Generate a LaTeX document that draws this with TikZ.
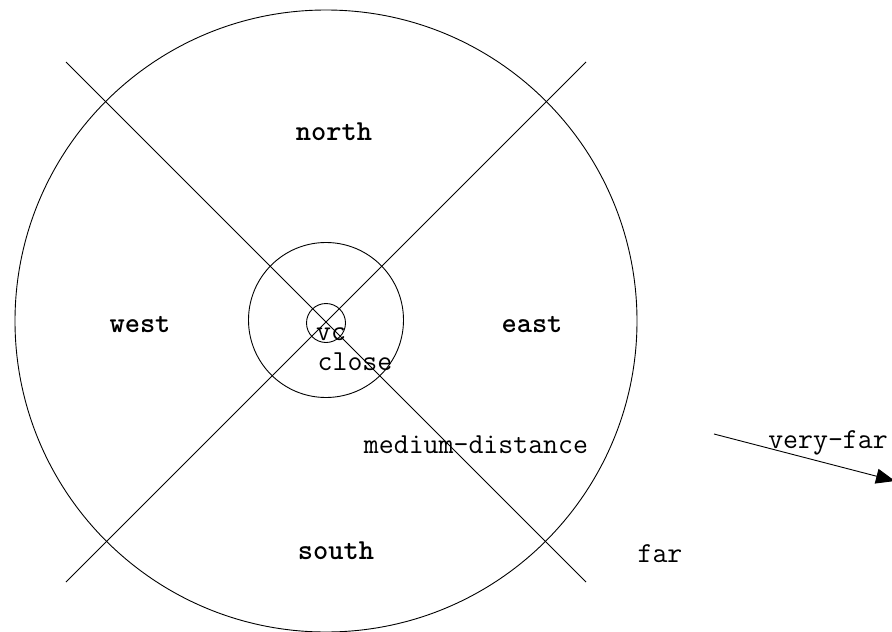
\documentclass[tikz,border=0pt]{standalone}
\usepackage{fontspec}
\usetikzlibrary{arrows.meta}
\begin{document}
\begin{tikzpicture}[x=1pt,y=-1pt,
  ln/.style={draw=black,line width=0.9pt},
  lbl/.style={font=\fontsize{29}{34}\selectfont\ttfamily,anchor=base,inner sep=0pt},
  blbl/.style={font=\fontsize{29}{34}\selectfont\ttfamily\bfseries,anchor=base,inner sep=0pt}]
\useasboundingbox (0,0) rectangle (892,632);
\coordinate (c) at (326,321);
\node[ln,circle,minimum size=622pt,inner sep=0pt] (big) at (c) {};
\node[ln,circle,minimum size=155pt,inner sep=0pt] (mid) at (326,320) {};
\node[ln,circle,minimum size=39pt,inner sep=0pt] (tiny) at (326,323) {};
\coordinate (nw) at (66,62);
\coordinate (ne) at (586,62);
\coordinate (sw) at (66,582);
\coordinate (se) at (586,582);
\draw[ln] (nw) -- (se);
\draw[ln] (ne) -- (sw);
\node[blbl] (north) at (334,140) {north};
\node[blbl] (west) at (140,332) {west};
\node[blbl] (east) at (532,332) {east};
\node[blbl] (south) at (336,559) {south};
\node[lbl] (vc) at (331,340) {vc};
\node[lbl] (close) at (355,370) {close};
\node[lbl] (medium) at (476,453) {medium-distance};
\node[lbl] (far) at (660,562) {far};
\node[lbl] (veryfar) at (828,448) {very-far};
\coordinate (a0) at (714,434);
\coordinate (a1) at (895,481);
\draw[ln,-{Triangle[length=19pt,width=15pt]}] (a0) -- (a1);
\end{tikzpicture}
\end{document}
